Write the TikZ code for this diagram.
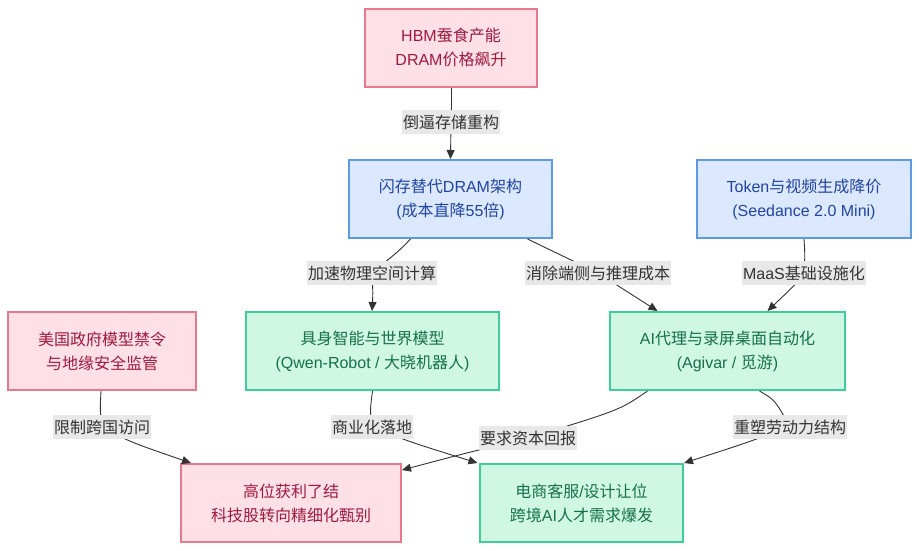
\documentclass[tikz,border=0pt]{standalone}
\usepackage{fontspec}
\setmainfont{Liberation Sans}
\newfontfamily\cjkfont{Noto Sans CJK SC}
\newcommand{\cj}[1]{{\cjkfont #1}}
\usetikzlibrary{arrows.meta}
\definecolor{redfill}{HTML}{FFE0E6}
\definecolor{redline}{HTML}{E8788C}
\definecolor{redtext}{HTML}{9E1A40}
\definecolor{bluefill}{HTML}{DBE8FD}
\definecolor{blueline}{HTML}{5B9BE6}
\definecolor{bluetext}{HTML}{2144A5}
\definecolor{greenfill}{HTML}{D0F7E4}
\definecolor{greenline}{HTML}{3ECF98}
\definecolor{greentext}{HTML}{16704B}
\definecolor{edgecol}{HTML}{333333}
\definecolor{lblfill}{HTML}{E8E8E8}
\tikzset{
  box/.style={draw, line width=2pt, inner sep=0pt, align=center,
    minimum height=78pt, font=\fontsize{16}{24}\selectfont},
  redbox/.style={box, fill=redfill, draw=redline, text=redtext},
  bluebox/.style={box, fill=bluefill, draw=blueline, text=bluetext},
  greenbox/.style={box, fill=greenfill, draw=greenline, text=greentext},
  lbl/.style={fill=lblfill, text=edgecol, inner xsep=1pt, inner ysep=0pt,
    minimum height=24pt, font=\fontsize{16}{24}\selectfont},
  edge/.style={draw=edgecol, line width=0.9pt},
  arr/.style={edge, -{Triangle[length=9pt,width=8pt]}},
}
\begin{document}
\begin{tikzpicture}[x=1pt,y=-1pt]
\useasboundingbox (0,0) rectangle (919,550);
% nodes
\node[redbox, minimum width=172pt] (hbm) at (451,47.5) {HBM\cj{蚕食产能}\\DRAM\cj{价格飙升}};
\node[bluebox, minimum width=203pt] (flash) at (450.5,199) {\cj{闪存替代}DRAM\cj{架构}\\(\cj{成本直降}55\cj{倍})};
\node[bluebox, minimum width=214pt] (token) at (804,199) {Token\cj{与视频生成降价}\\(Seedance 2.0 Mini)};
\node[redbox, minimum width=188pt] (gov) at (102,351) {\cj{美国政府模型禁令}\\\cj{与地缘安全监管}};
\node[greenbox, minimum width=253pt] (emb) at (372.5,351) {\cj{具身智能与世界模型}\\(Qwen-Robot / \cj{大晓机器人})};
\node[greenbox, minimum width=235pt] (agent) at (727.5,351) {AI\cj{代理与录屏桌面自动化}\\(Agivar / \cj{觅游})};
\node[redbox, minimum width=220pt] (peak) at (291,503) {\cj{高位获利了结}\\\cj{科技股转向精细化甄别}};
\node[greenbox, minimum width=203pt] (ecom) at (581.5,503) {\cj{电商客服}/\cj{设计让位}\\\cj{跨境}AI\cj{人才需求爆发}};
% label anchor coordinates
\coordinate (c1) at (451,122);
\coordinate (c2) at (372,273);
\coordinate (c3) at (598,273);
\coordinate (c4) at (804,273);
\coordinate (c5) at (102,427);
\coordinate (c6) at (372,427);
\coordinate (c7) at (528,438);
\coordinate (c8) at (790,427);
% edges
\draw[edge] (hbm.south) -- (c1);
\draw[arr] (c1) -- (flash.north);
\draw[edge] ([xshift=-40pt]flash.south) .. controls (400,250) .. (c2);
\draw[arr] (c2) .. controls (373,295) .. ([xshift=-0.5pt]emb.north);
\draw[edge] ([xshift=77pt]flash.south) -- (c3);
\draw[arr] (c3) -- ([xshift=-70pt]agent.north);
\draw[edge] (token.south) .. controls (805,255) .. (c4);
\draw[arr] (c4) .. controls (795,285) .. ([xshift=40pt]agent.north);
\draw[edge] ([xshift=-1pt]gov.south) .. controls (100,410) .. (c5);
\draw[arr] (c5) .. controls (130,442) .. ([xshift=-100pt]peak.north);
\draw[edge] (emb.south) .. controls (370,410) .. (c6);
\draw[arr] (c6) .. controls (410,442) .. ([xshift=-104pt]ecom.north);
\draw[edge] ([xshift=-80pt]agent.south) .. controls (620,410) .. (c7);
\draw[arr] (c7) .. controls (470,452) .. ([yshift=33pt]peak.east);
\draw[edge] ([xshift=32pt]agent.south) .. controls (775,400) .. (c8);
\draw[arr] (c8) .. controls (740,445) .. (ecom.north east);
% labels
\node[lbl] (l1) at (c1) {\cj{倒逼存储重构}};
\node[lbl] (l2) at (c2) {\cj{加速物理空间计算}};
\node[lbl] (l3) at (c3) {\cj{消除端侧与推理成本}};
\node[lbl] (l4) at (c4) {MaaS\cj{基础设施化}};
\node[lbl] (l5) at (c5) {\cj{限制跨国访问}};
\node[lbl] (l6) at (c6) {\cj{商业化落地}};
\node[lbl] (l7) at (c7) {\cj{要求资本回报}};
\node[lbl] (l8) at (c8) {\cj{重塑劳动力结构}};
\end{tikzpicture}
\end{document}
